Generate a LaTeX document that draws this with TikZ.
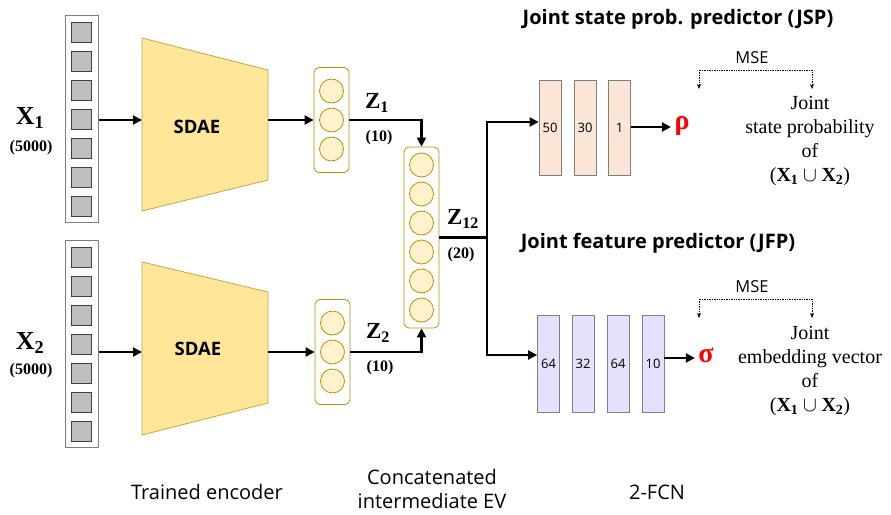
\documentclass[tikz,border=0pt]{standalone}
\usepackage{fontspec}
\setmainfont{Liberation Serif}
\setsansfont{Open Sans}
\usetikzlibrary{arrows.meta}

\definecolor{cellfill}{HTML}{BFBFBF}
\definecolor{celldraw}{HTML}{404040}
\definecolor{framedraw}{HTML}{7F7F7F}
\definecolor{encfill}{HTML}{FFE699}
\definecolor{encdraw}{HTML}{C9A53A}
\definecolor{unitfill}{HTML}{FFF2CC}
\definecolor{unitdraw}{HTML}{BF9000}
\definecolor{jspfill}{HTML}{FBE5D6}
\definecolor{jfpfill}{HTML}{E5E0FC}
\definecolor{boxdraw}{HTML}{7F7F7F}
\definecolor{outred}{HTML}{FF0000}

\begin{document}
\begin{tikzpicture}[x=1pt,y=-1pt,
  inframe/.style={draw=framedraw, fill=white, line width=1pt, minimum width=33pt, minimum height=207pt, inner sep=0pt},
  cell/.style={draw=celldraw, fill=cellfill, line width=0.8pt, minimum size=20pt, inner sep=0pt},
  encoder/.style={draw=encdraw, fill=encfill, line width=0.8pt},
  vecbox/.style={draw=unitdraw, rounded corners=5pt, line width=0.8pt, minimum width=35pt, inner sep=0pt},
  unit/.style={circle, draw=unitdraw, fill=unitfill, line width=0.8pt, minimum size=24pt, inner sep=0pt},
  flow/.style={line width=2.2pt, -{Triangle[length=9pt,width=9pt]}},
  plain/.style={line width=2.2pt},
  layer/.style={draw=boxdraw, line width=0.8pt, minimum width=22pt, inner sep=0pt, font=\sffamily\fontsize{13}{13}\selectfont},
  jsplayer/.style={layer, fill=jspfill, minimum height=95pt},
  jfplayer/.style={layer, fill=jfpfill, minimum height=97pt},
  lossline/.style={densely dotted, line width=0.7pt, {Stealth[length=5pt,width=4pt]}-{Stealth[length=5pt,width=4pt]}},
  inlabel/.style={font=\fontsize{26}{26}\selectfont\bfseries},
  dimlabel/.style={font=\fontsize{16}{16}\selectfont\bfseries},
  zlabel/.style={font=\fontsize{23}{23}\selectfont\bfseries},
  enctext/.style={font=\sffamily\bfseries\fontsize{18.5}{18.5}\selectfont},
  title/.style={font=\sffamily\bfseries\fontsize{20}{20}\selectfont},
  msetext/.style={font=\sffamily\fontsize{16.5}{16.5}\selectfont},
  target/.style={align=center, font=\fontsize{20}{24}\selectfont},
  output/.style={text=outred, font=\fontsize{28}{28}\selectfont\bfseries},
  caption/.style={align=center, font=\sffamily\fontsize{20}{24}\selectfont}
]
\useasboundingbox (0,0) rectangle (891,514);

% ---------- input vectors ----------
\node[inframe] (in1) at (81.5,118.5) {};
\foreach \i in {0,...,6} \node[cell] (ca\i) at (81,32+29*\i) {};
\node[inframe] (in2) at (81.5,344) {};
\foreach \i in {0,...,6} \node[cell] (cb\i) at (81,257+29*\i) {};

\node[inlabel] (x1) at (30,118) {X$_{\mathbf{1}}$};
\node[dimlabel] (x1d) at (31,148) {(5000)};
\node[inlabel] (x2) at (30,343) {X$_{\mathbf{2}}$};
\node[dimlabel] (x2d) at (31,371) {(5000)};

% ---------- trained encoders ----------
\draw[encoder] (142,38) -- (268,70) -- (268,180) -- (142,211) -- cycle;
\draw[encoder] (142,262) -- (268,292) -- (268,403) -- (142,435) -- cycle;
\node[enctext] (sdae1) at (197,127) {SDAE};
\node[enctext] (sdae2) at (198,349) {SDAE};
\coordinate (e1w) at (142,120);
\coordinate (e1e) at (268,120);
\coordinate (e2w) at (142,352);
\coordinate (e2e) at (268,352);

% ---------- intermediate embedding vectors ----------
\node[vecbox, minimum height=105pt] (z1col) at (331.5,120) {};
\foreach \i in {0,1,2} \node[unit] (ua\i) at (331.5,91+29*\i) {};
\node[vecbox, minimum height=105pt] (z2col) at (332.5,352) {};
\foreach \i in {0,1,2} \node[unit] (ub\i) at (332.5,323+29*\i) {};
\node[vecbox, minimum height=181pt] (zc) at (421.5,237.5) {};
\foreach \i in {0,...,5} \node[unit] (uc\i) at (421.5,165+29*\i) {};

\node[zlabel] (z1) at (377,103) {Z$_{\mathbf{1}}$};
\node[dimlabel] (z1d) at (379,138) {(10)};
\node[zlabel] (z2) at (378,333) {Z$_{\mathbf{2}}$};
\node[dimlabel] (z2d) at (380,368) {(10)};
\node[zlabel] (z12) at (463,219) {Z$_{\mathbf{12}}$};
\node[dimlabel] (z12d) at (461,255) {(20)};

% ---------- flow through the encoders ----------
\draw[flow] (in1.east |- e1w) -- (e1w);
\draw[flow] (e1e) -- (z1col.west);
\draw[flow] (in2.east |- e2w) -- (e2w);
\draw[flow] (e2e) -- (z2col.west);
\draw[flow] (z1col.east) -| (zc.north);
\draw[flow] (z2col.east) -| (zc.south);

% ---------- JSP branch ----------
\node[title] (jsptitle) at (678,19) {Joint state prob. predictor (JSP)};
\node[jsplayer] (p1) at (550,127.5) {50};
\node[jsplayer] (p2) at (585,127.5) {30};
\node[jsplayer] (p3) at (619.5,127.5) {1};
\node[output] (rho) at (682,126) {ρ};

% ---------- JFP branch ----------
\node[title] (jfptitle) at (658,243) {Joint feature predictor (JFP)};
\node[jfplayer] (f1) at (548.5,363.5) {64};
\node[jfplayer] (f2) at (583,363.5) {32};
\node[jfplayer] (f3) at (618,363.5) {64};
\node[jfplayer] (f4) at (653,363.5) {10};
\node[output] (sigma) at (706,355) {σ};

% ---------- split of the concatenated vector ----------
\coordinate (split) at (487,237.5);
\draw[plain] (zc.east) -- (split);
\draw[flow] (split) |- ([yshift=5.5pt]p1.west);
\draw[flow] (split) |- ([yshift=8.5pt]f1.west);
\draw[flow] ([yshift=0.5pt]p3.east) -- ([yshift=0.5pt]p3.east -| rho.west);
\draw[flow] ([yshift=5.5pt]f4.east) -- ([yshift=5.5pt]f4.east -| sigma.west);

% ---------- losses and targets ----------
\coordinate (l1a) at (699,89);
\coordinate (l1b) at (812,89);
\coordinate (l1t) at (755,70);
\draw[lossline] (l1a) |- (l1t) -| (l1b);
\node[msetext] (mse1) at (752,58) {MSE};
\node[target] (t1) at (810,141) {Joint\\state probability\\of\\($\mathbf{X}_{\mathbf{1}} \cup \mathbf{X}_{\mathbf{2}}$)};

\coordinate (l2a) at (699,318);
\coordinate (l2b) at (812,318);
\coordinate (l2t) at (755,299);
\draw[lossline] (l2a) |- (l2t) -| (l2b);
\node[msetext] (mse2) at (752,287) {MSE};
\node[target] (t2) at (810,371) {Joint\\embedding vector\\of\\($\mathbf{X}_{\mathbf{1}} \cup \mathbf{X}_{\mathbf{2}}$)};

% ---------- stage captions ----------
\node[caption] (cap1) at (207,492) {Trained encoder};
\node[caption] (cap2) at (432,489) {Concatenated\\intermediate EV};
\node[caption] (cap3) at (657,492) {2-FCN};
\end{tikzpicture}
\end{document}
